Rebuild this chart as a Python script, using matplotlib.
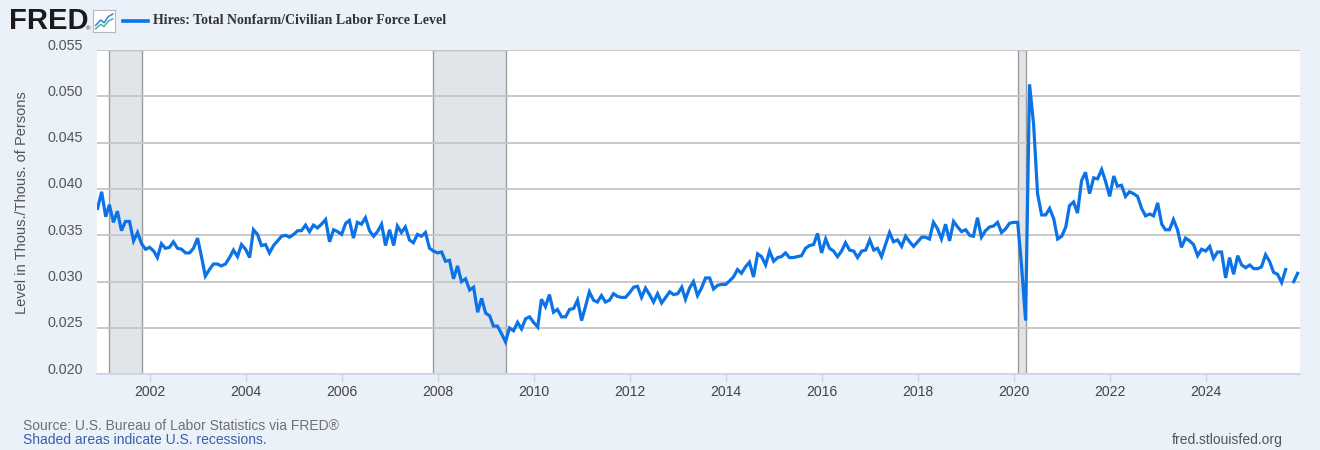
import matplotlib
matplotlib.use('Agg')
import matplotlib.pyplot as plt
import matplotlib.dates as mdates
import matplotlib.transforms as mtransforms
import numpy as np
import pandas as pd

# monthly hires / civilian labor force, Dec 2000 .. Dec 2025 (Oct 2025 missing)
hires_2000s = [
    0.0379,
    0.0397, 0.0370, 0.0383, 0.0364, 0.0376, 0.0355, 0.0365, 0.0365, 0.0344, 0.0353, 0.0341, 0.0335,
    0.0337, 0.0333, 0.0326, 0.0341, 0.0336, 0.0337, 0.0343, 0.0336, 0.0335, 0.0331, 0.0331, 0.0336,
    0.0347, 0.0326, 0.0306, 0.0313, 0.0319, 0.0319, 0.0317, 0.0319, 0.0326, 0.0334, 0.0327, 0.0340,
    0.0335, 0.0326, 0.0356, 0.0351, 0.0339, 0.0340, 0.0331, 0.0339, 0.0344, 0.0349, 0.0350, 0.0348,
    0.0351, 0.0355, 0.0355, 0.0361, 0.0354, 0.0361, 0.0358, 0.0362, 0.0367, 0.0343, 0.0356, 0.0354,
    0.0351, 0.0363, 0.0366, 0.0347, 0.0364, 0.0362, 0.0369, 0.0355, 0.0349, 0.0354, 0.0362, 0.0339,
    0.0356, 0.0339, 0.0360, 0.0353, 0.0359, 0.0345, 0.0342, 0.0351, 0.0349, 0.0353, 0.0336, 0.0333,
    0.0331, 0.0332, 0.0322, 0.0323, 0.0303, 0.0317, 0.0300, 0.0303, 0.0291, 0.0294, 0.0267, 0.0282,
    0.0266, 0.0263, 0.0252, 0.0252, 0.0244, 0.0235, 0.0250, 0.0247, 0.0256, 0.0249, 0.0260, 0.0262,
]
hires_2010s = [
    0.0256, 0.0251, 0.0281, 0.0273, 0.0286, 0.0267, 0.0270, 0.0262, 0.0262, 0.0270, 0.0271, 0.0280,
    0.0258, 0.0274, 0.0289, 0.0280, 0.0278, 0.0285, 0.0278, 0.0280, 0.0287, 0.0284, 0.0283, 0.0283,
    0.0288, 0.0294, 0.0295, 0.0283, 0.0293, 0.0286, 0.0278, 0.0287, 0.0277, 0.0283, 0.0289, 0.0286,
    0.0287, 0.0294, 0.0281, 0.0293, 0.0300, 0.0285, 0.0293, 0.0304, 0.0304, 0.0292, 0.0296, 0.0297,
    0.0297, 0.0301, 0.0305, 0.0313, 0.0309, 0.0316, 0.0321, 0.0305, 0.0330, 0.0327, 0.0318, 0.0333,
    0.0322, 0.0326, 0.0327, 0.0331, 0.0326, 0.0326, 0.0327, 0.0328, 0.0336, 0.0339, 0.0340, 0.0352,
    0.0331, 0.0346, 0.0336, 0.0333, 0.0327, 0.0333, 0.0342, 0.0334, 0.0333, 0.0326, 0.0333, 0.0334,
    0.0345, 0.0334, 0.0336, 0.0327, 0.0340, 0.0353, 0.0343, 0.0345, 0.0338, 0.0349, 0.0343, 0.0338,
    0.0343, 0.0348, 0.0348, 0.0346, 0.0364, 0.0357, 0.0346, 0.0362, 0.0344, 0.0365, 0.0359, 0.0354,
    0.0356, 0.0350, 0.0349, 0.0369, 0.0348, 0.0355, 0.0359, 0.0360, 0.0364, 0.0353, 0.0357, 0.0363,
]
hires_2020s = [
    0.0364, 0.0364, 0.0318, 0.0258, 0.0513, 0.0470, 0.0395, 0.0372, 0.0372, 0.0379, 0.0368, 0.0346,
    0.0349, 0.0359, 0.0382, 0.0386, 0.0374, 0.0409, 0.0418, 0.0395, 0.0412, 0.0411, 0.0421, 0.0408,
    0.0392, 0.0414, 0.0403, 0.0404, 0.0392, 0.0397, 0.0395, 0.0392, 0.0379, 0.0371, 0.0373, 0.0371,
    0.0385, 0.0362, 0.0356, 0.0356, 0.0367, 0.0356, 0.0337, 0.0347, 0.0344, 0.0340, 0.0328, 0.0335,
    0.0333, 0.0338, 0.0325, 0.0332, 0.0332, 0.0304, 0.0326, 0.0308, 0.0328, 0.0318, 0.0315, 0.0318,
    0.0314, 0.0314, 0.0316, 0.0329, 0.0322, 0.0310, 0.0308, 0.0299, 0.0313, np.nan, 0.0300, 0.0309,
]
recessions = [('2001-03-01', '2001-11-01'), ('2007-12-01', '2009-06-01'), ('2020-02-01', '2020-04-01')]
y_ticks = [0.020, 0.025, 0.030, 0.035, 0.040, 0.045, 0.050, 0.055]
x_years = list(range(2002, 2025, 2))

values = np.array(hires_2000s + hires_2010s + hires_2020s)
dates = pd.date_range('2000-12-01', periods=len(values), freq='MS')

BG = '#eaf1f9'
LINE = '#0b73e6'
FONT = ['Liberation Sans', 'DejaVu Sans']

fig = plt.figure(figsize=(13.2, 4.5), dpi=100, facecolor=BG)
ax = fig.add_axes([97.3/1320, 1 - 374.3/450, (1300 - 97.3)/1320, (374.3 - 50)/450])
ax.set_facecolor('white')

for start, end in recessions:
    ax.axvspan(pd.Timestamp(start), pd.Timestamp(end), facecolor='#e1e5ea',
               edgecolor='#9a9a9a', linewidth=1.0, zorder=1)

ax.plot(dates, values, color=LINE, linewidth=2.3, zorder=3, solid_joinstyle='miter')

ax.set_ylim(0.020, 0.055)
ax.set_xlim(pd.Timestamp('2000-11-29'), pd.Timestamp('2025-12-19'))
ax.set_yticks(y_ticks)
ax.set_yticklabels(['{:.3f}'.format(v) for v in y_ticks])
ax.set_xticks([pd.Timestamp('{}-01-01'.format(y)) for y in x_years])
ax.xaxis.set_major_formatter(mdates.DateFormatter('%Y'))
ax.grid(axis='y', color='#c8c8c8', linewidth=1.4, zorder=2)
ax.set_axisbelow(False)

for side in ['top', 'right', 'left']:
    ax.spines[side].set_visible(False)
ax.spines['bottom'].set_color('#ccd6eb')
ax.spines['bottom'].set_linewidth(1.2)
ax.spines['bottom'].set_zorder(4)

ax.tick_params(axis='y', length=0, pad=10.5, labelsize=10.3, labelcolor='#555555')
ax.tick_params(axis='x', length=5.5, width=1, color='#ccd6eb', pad=2.5,
               labelsize=10.1, labelcolor='#444444')
for lab in ax.get_xticklabels() + ax.get_yticklabels():
    lab.set_family(FONT)
shift = mtransforms.ScaledTranslation(0, 6/100, fig.dpi_scale_trans)
for tick in ax.yaxis.get_major_ticks():
    tick.label1.set_transform(tick.label1.get_transform() + shift)

fig.text(22.5/1320, 1 - 202.5/450, 'Level in Thous./Thous. of Persons', rotation=90,
         ha='center', va='center', fontsize=10.5, color='#555555', family=FONT)

# header: FRED logo + legend
fig.text(9/1320, 1 - 21/450, 'FRED', ha='left', va='center', fontsize=21,
         fontweight='bold', color='#1a1a1a', family=FONT)
fig.text(86/1320, 1 - 29/450, '®', ha='left', va='center', fontsize=4.5,
         color='#1a1a1a', family=FONT)
icon = fig.add_axes([93/1320, 1 - 32/450, 22/1320, 22/450])
icon.set_xlim(0, 1)
icon.set_ylim(0, 1)
icon.set_xticks([])
icon.set_yticks([])
icon.set_facecolor('white')
for s in icon.spines.values():
    s.set_color('#b8b8b8')
    s.set_linewidth(0.8)
icon.plot([0.12, 0.35, 0.5, 0.7, 0.9], [0.3, 0.55, 0.42, 0.7, 0.82], color='#3b7ddd', lw=1.1)
icon.plot([0.12, 0.35, 0.5, 0.7, 0.9], [0.15, 0.35, 0.25, 0.5, 0.6], color='#46b59b', lw=1.1)

fig.add_artist(plt.Line2D([123/1320, 148/1320], [1 - 21/450, 1 - 21/450], color=LINE, linewidth=2.6))
fig.text(153/1320, 1 - 21/450, 'Hires: Total Nonfarm/Civilian Labor Force Level', ha='left',
         va='center', fontsize=10, fontweight='bold', color='#333333',
         family=['Liberation Serif', 'DejaVu Serif'])

# footer
fig.text(23/1320, 1 - 426/450, 'Source: U.S. Bureau of Labor Statistics via FRED®', ha='left',
         va='center', fontsize=10, color='#707070', family=FONT)
fig.text(23/1320, 1 - 440/450, 'Shaded areas indicate U.S. recessions.', ha='left',
         va='center', fontsize=10, color='#3a5ea8', family=FONT)
fig.text(1283/1320, 1 - 440/450, 'fred.stlouisfed.org', ha='right', va='center',
         fontsize=10, color='#555555', family=FONT)

fig.savefig('out.png', dpi=100, facecolor=BG)
